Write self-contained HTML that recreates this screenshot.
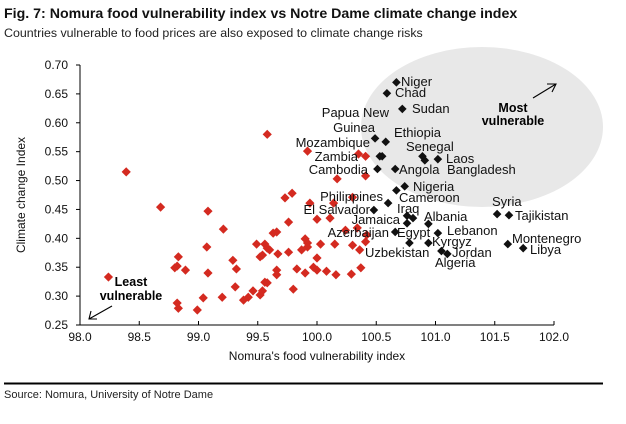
<!DOCTYPE html>
<html><head><meta charset="utf-8"><style>
body{margin:0;background:#fff;width:626px;height:424px;overflow:hidden;font-family:"Liberation Sans",Arial,sans-serif}
svg{display:block}
</style></head><body>
<svg id="chart" width="626" height="424">
<text x="4" y="18" font-size="14.2" font-weight="bold" fill="#111">Fig. 7: Nomura food vulnerability index vs Notre Dame climate change index</text>
<text x="4" y="37" font-size="12.4" fill="#222">Countries vulnerable to food prices are also exposed to climate change risks</text>
<ellipse cx="482" cy="127" rx="121" ry="80" fill="#e8e8e8"/>
<g id="axes"></g>
<g id="marks"></g>
<g id="labels" font-size="13" fill="#111"></g>
<text x="513" y="112" font-size="12.5" font-weight="bold" text-anchor="middle">Most</text>
<text x="513" y="125" font-size="12.5" font-weight="bold" text-anchor="middle">vulnerable</text>
<g stroke="#000" stroke-width="1.1" fill="none"><line x1="533" y1="98" x2="556" y2="84"/><polyline points="547,84 556,84 552,92"/></g>
<text x="131" y="286" font-size="12.5" font-weight="bold" text-anchor="middle">Least</text>
<text x="131" y="300" font-size="12.5" font-weight="bold" text-anchor="middle">vulnerable</text>
<g stroke="#000" stroke-width="1.1" fill="none"><line x1="112" y1="306" x2="89" y2="319"/><polyline points="91,311 89,319 97,319"/></g>
<text x="317" y="360" font-size="12" text-anchor="middle" fill="#111">Nomura's food vulnerability index</text>
<text transform="translate(25,195) rotate(-90)" font-size="12" text-anchor="middle" fill="#111">Climate change Index</text>
<line x1="4" y1="383.5" x2="603" y2="383.5" stroke="#000" stroke-width="2"/>
<text x="4" y="398" font-size="11" fill="#222">Source: Nomura, University of Notre Dame</text>
</svg>
<script>
const xTicks=[98.0,98.5,99.0,99.5,100.0,100.5,101.0,101.5,102.0];
const yTicks=[0.25,0.30,0.35,0.40,0.45,0.50,0.55,0.60,0.65,0.70];
const redX=[99.58,98.39,98.68,99.08,98.24,99.92,100.35,100.41,100.17,100.41,99.73,99.79,99.94,100.14,100.30,99.21,99.76,100.00,100.11,99.63,99.66,100.24,100.34,100.42,100.41,99.07,99.49,99.56,99.58,99.60,99.67,99.76,99.87,99.90,99.92,99.92,100.03,100.15,100.30,100.36,98.83,99.29,99.52,99.54,98.82,98.80,98.89,99.32,99.08,99.66,99.66,99.83,99.90,99.97,100.00,100.00,100.08,100.16,100.29,100.37,99.56,99.58,99.31,99.80,99.04,99.20,99.38,99.42,99.46,99.52,99.54,98.82,98.83,98.99];
const redY=[0.580,0.515,0.454,0.447,0.333,0.551,0.546,0.542,0.503,0.508,0.470,0.478,0.461,0.461,0.471,0.416,0.428,0.433,0.435,0.409,0.411,0.414,0.418,0.406,0.394,0.385,0.390,0.390,0.383,0.380,0.373,0.376,0.380,0.399,0.392,0.385,0.390,0.390,0.388,0.380,0.368,0.362,0.368,0.371,0.352,0.349,0.345,0.347,0.340,0.345,0.337,0.347,0.340,0.350,0.345,0.366,0.343,0.337,0.338,0.349,0.324,0.323,0.316,0.312,0.297,0.298,0.293,0.298,0.309,0.302,0.309,0.288,0.279,0.276];
const blkX=[100.67,100.59,100.72,100.49,100.58,100.89,100.91,101.02,100.53,100.55,100.51,100.66,100.74,100.67,100.60,100.48,100.76,100.81,100.76,100.94,100.66,101.02,100.78,100.94,101.05,101.10,101.52,101.62,101.61,101.74];
const blkY=[0.670,0.651,0.624,0.573,0.567,0.542,0.535,0.537,0.542,0.542,0.520,0.520,0.490,0.483,0.461,0.449,0.439,0.435,0.426,0.425,0.411,0.409,0.392,0.392,0.378,0.373,0.442,0.440,0.390,0.383];
const labelText=["Niger","Chad","Sudan","Papua New","Guinea","Ethiopia","Senegal","Laos","Mozambique","Zambia","Cambodia","Angola","Bangladesh","Nigeria","Cameroon","Philippines","Iraq","El Salvador","Jamaica","Albania","Azerbaijan","Egypt","Lebanon","Kyrgyz","Uzbekistan","Jordan","Algeria","Syria","Tajikistan","Montenegro","Libya"];
const labelPos=[[401,86,"s"],[395,97,"s"],[412,113,"s"],[389,117,"e"],[375,132,"e"],[394,137,"s"],[406,151,"s"],[446,163,"s"],[370,147,"e"],[358,161,"e"],[368,174,"e"],[399,174,"s"],[447,174,"s"],[413,191,"s"],[399,202,"s"],[383,201,"e"],[397,213,"s"],[370,214,"e"],[400,224,"e"],[424,221,"s"],[389,237,"e"],[397,237,"s"],[447,235,"s"],[432,246,"s"],[365,257,"s"],[452,257,"s"],[435,267,"s"],[492,206,"s"],[515,220,"s"],[512,243,"s"],[530,254,"s"]];
const NS="http://www.w3.org/2000/svg";
const X0=80,X1=554,Y0=325,Y1=65;
function sx(v){return X0+(v-98)/(102-98)*(X1-X0);}
function sy(v){return Y0-(v-0.25)/(0.70-0.25)*(Y0-Y1);}
function mk(t,a,p){const e=document.createElementNS(NS,t);for(const k in a)e.setAttribute(k,a[k]);p.appendChild(e);return e;}
const axes=document.getElementById('axes');
const yl=mk('line',{x1:X0,y1:Y1,x2:X0,y2:Y0,stroke:'#000','stroke-width':1},axes);


const xl=mk('line',{x1:X0,y1:Y0,x2:X1,y2:Y0,stroke:'#000','stroke-width':1},axes);


xTicks.forEach(v=>{
 const tk=mk('line',{x1:sx(v),y1:Y0,x2:sx(v),y2:Y0-4,stroke:'#000'},axes);
 
 
 const t=mk('text',{x:sx(v),y:Y0+16,'font-size':12,'text-anchor':'middle',fill:'#111'},axes);
 t.textContent=v.toFixed(1);
 
 
});
yTicks.forEach(v=>{
 const tk=mk('line',{x1:X0-4,y1:sy(v),x2:X0,y2:sy(v),stroke:'#000'},axes);
 
 
 const t=mk('text',{x:X0-12,y:sy(v)+4,'font-size':12,'text-anchor':'end',fill:'#111'},axes);
 t.textContent=v.toFixed(2);
 
 
});
const marks=document.getElementById('marks');
function diamond(x,y,c,s){return mk('polygon',{points:`${x},${y-s} ${x+s},${y} ${x},${y+s} ${x-s},${y}`,fill:c},marks);}
redX.forEach((v,i)=>{
 const d=diamond(sx(v),sy(redY[i]),'#d42a20',4.6);
 
 
});
blkX.forEach((v,i)=>{
 const d=diamond(sx(v),sy(blkY[i]),'#111',4.3);
 
 
});
const labels=document.getElementById('labels');
labelText.forEach((s,i)=>{
 const p=labelPos[i];
 const t=mk('text',{x:p[0],y:p[1],'text-anchor':p[2]==='e'?'end':'start'},labels);
 t.textContent=s;
 
 
});
</script>
</body></html>
